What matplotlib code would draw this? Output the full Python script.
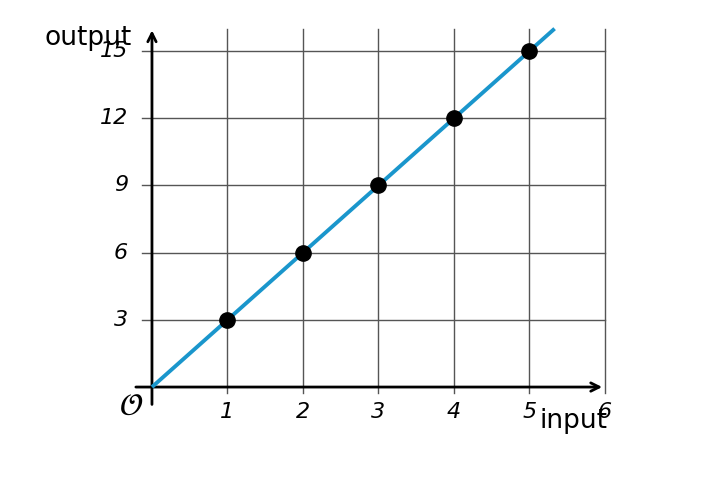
import matplotlib
matplotlib.use("Agg")
import matplotlib.pyplot as plt
import numpy as np

x_ticks = [1, 2, 3, 4, 5, 6]
y_ticks = [3, 6, 9, 12, 15]
points_x = [1, 2, 3, 4, 5]
points_y = [3, 6, 9, 12, 15]
slope = 3

fig = plt.figure(figsize=(7.28, 4.8), dpi=100)
ax = fig.add_axes([0, 0, 1, 1])
ax.set_xlim(-2.013, 7.63)
ax.set_ylim(-4.15, 17.28)
ax.axis('off')

grid_c = '#555555'
for xv in x_ticks:
    ax.plot([xv, xv], [-0.27, 16.0], color=grid_c, lw=1, zorder=1)
for yv in y_ticks:
    ax.plot([-0.13, 6], [yv, yv], color=grid_c, lw=1, zorder=1)

# axes arrows
ax.annotate('', xy=(6.0, 0), xytext=(-0.25, 0),
            arrowprops=dict(arrowstyle='->', lw=2, color='black', mutation_scale=15), zorder=3)
ax.annotate('', xy=(0, 16.05), xytext=(0, -0.9),
            arrowprops=dict(arrowstyle='->', lw=2, color='black', mutation_scale=15), zorder=3)

# line
xe = 16.0 / slope
xs = np.array([0, xe])
ax.plot(xs, slope * xs, color='#1a96cc', lw=2.8, zorder=4, solid_capstyle='butt')
ax.plot(points_x, points_y, 'o', color='black', ms=11, zorder=5)

for xv in x_ticks:
    ax.text(xv, -1.12, str(xv), ha='center', va='center', fontsize=16, style='italic')
for yv in y_ticks:
    ax.text(-0.32, yv, str(yv), ha='right', va='center', fontsize=16, style='italic')
ax.text(-0.27, -0.85, r'$\mathcal{O}$', ha='center', va='center', fontsize=22)
ax.text(5.59, -1.5, 'input', ha='center', va='center', fontsize=19)
ax.text(-0.85, 15.6, 'output', ha='center', va='center', fontsize=19)

fig.savefig('out.png', dpi=100)
